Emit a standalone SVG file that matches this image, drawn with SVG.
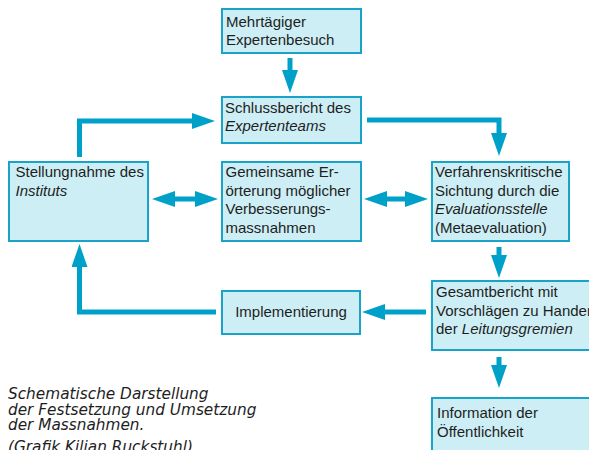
<svg xmlns="http://www.w3.org/2000/svg" width="589" height="450" viewBox="0 0 589 450">
<style>
.box{fill:#cdeef5;stroke:#1aa3c8;stroke-width:2}
.t{font-family:"Liberation Sans",Arial,sans-serif;font-size:15px;fill:#1e1e1e}
.i{font-style:italic}
.cap{font-family:"DejaVu Sans",Verdana,sans-serif;font-style:italic;font-size:15.3px;fill:#1e1e1e}
.c{fill:none;stroke:#00a1c8;stroke-width:5;stroke-linejoin:miter}
</style>
<defs>
<marker id="ah" markerUnits="userSpaceOnUse" markerWidth="23" markerHeight="16" refX="0" refY="8" orient="auto-start-reverse">
<path d="M0,0 L23,8 L0,16 z" fill="#00a1c8"/>
</marker>
</defs>
<g id="connectors">
<path class="c" d="M290,58 V70" marker-end="url(#ah)"/>
<path class="c" d="M79.5,157 V121 H192" marker-end="url(#ah)"/>
<path class="c" d="M367,120 H499 V133" marker-end="url(#ah)"/>
<path class="c" d="M175,199 H195" marker-start="url(#ah)" marker-end="url(#ah)"/>
<path class="c" d="M387,199 H405" marker-start="url(#ah)" marker-end="url(#ah)"/>
<path class="c" d="M499,247 V255" marker-end="url(#ah)"/>
<path class="c" d="M499,357 V365" marker-end="url(#ah)"/>
<path class="c" d="M426,312 H385" marker-end="url(#ah)"/>
<path class="c" d="M216,312 H79.5 V267" marker-end="url(#ah)"/>
</g>
<g id="besuch">
<rect class="box" x="222" y="9" width="139" height="44"/>
<text class="t" x="226" y="27">Mehrtägiger</text>
<text class="t" x="226" y="45">Expertenbesuch</text>
</g>
<g id="schlussbericht">
<rect class="box" x="222" y="97" width="139" height="46"/>
<text class="t" x="225" y="113">Schlussbericht des</text>
<text class="t i" x="225" y="131">Expertenteams</text>
</g>
<g id="stellungnahme">
<rect class="box" x="9" y="162" width="139" height="79"/>
<text class="t" x="15.5" y="177">Stellungnahme des</text>
<text class="t i" x="15.5" y="195.5">Instituts</text>
</g>
<g id="eroerterung">
<rect class="box" x="222" y="162" width="139" height="79"/>
<text class="t" x="225.5" y="177">Gemeinsame Er-</text>
<text class="t" x="225.5" y="195.7">örterung möglicher</text>
<text class="t" x="225.5" y="214.3">Verbesserungs-</text>
<text class="t" x="225.5" y="233">massnahmen</text>
</g>
<g id="sichtung">
<rect class="box" x="432" y="162" width="137" height="79"/>
<text class="t" x="435" y="177">Verfahrenskritische</text>
<text class="t" x="435" y="195.7">Sichtung durch die</text>
<text class="t i" x="435" y="214.3">Evaluationsstelle</text>
<text class="t" x="435" y="233">(Metaevaluation)</text>
</g>
<g id="gesamtbericht">
<rect class="box" x="432" y="281" width="165" height="69"/>
<text class="t" x="436" y="297">Gesamtbericht mit</text>
<text class="t" x="436" y="315.5">Vorschlägen zu Handen</text>
<text class="t" x="436" y="334">der <tspan class="i">Leitungsgremien</tspan></text>
</g>
<g id="implementierung">
<rect class="box" x="222" y="291" width="138" height="43"/>
<text class="t" x="291" y="317" text-anchor="middle">Implementierung</text>
</g>
<g id="information">
<rect class="box" x="432" y="398" width="165" height="62"/>
<text class="t" x="437" y="418">Information der</text>
<text class="t" x="437" y="437">Öffentlichkeit</text>
</g>
<g id="caption">
<text class="cap" x="8" y="399">Schematische Darstellung</text>
<text class="cap" x="8" y="414.5">der Festsetzung und Umsetzung</text>
<text class="cap" x="8" y="430">der Massnahmen.</text>
<text class="cap" x="8" y="452">(Grafik Kilian Ruckstuhl)</text>
</g>
</svg>
